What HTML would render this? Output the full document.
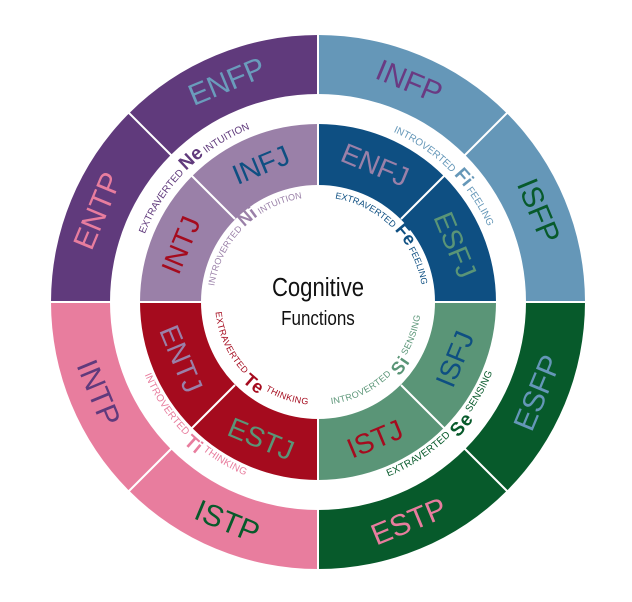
<!DOCTYPE html>
<html><head><meta charset="utf-8"><style>
html,body{margin:0;padding:0;background:#fff;width:632px;height:602px;overflow:hidden}
svg{display:block}
text{font-family:"Liberation Sans",sans-serif}
</style></head><body>
<svg width="632" height="602" viewBox="0 0 632 602" xmlns="http://www.w3.org/2000/svg">
<defs>
<path id="pNe" d="M 132.1 295.5 A 186 186 0 0 1 311.5 116.1"/>
<path id="pFi" d="M 324.5 116.1 A 186 186 0 0 1 503.9 295.5"/>
<path id="pSe" d="M 324.4 483.9 A 182 182 0 0 0 499.9 308.4"/>
<path id="pTi" d="M 136.1 308.4 A 182 182 0 0 0 311.6 483.9"/>
<path id="pNi" d="M 213.1 298.3 A 105 105 0 0 1 314.3 197.1"/>
<path id="pFe" d="M 321.7 197.1 A 105 105 0 0 1 422.9 298.3"/>
<path id="pSi" d="M 321.4 398.9 A 97 97 0 0 0 414.9 305.4"/>
<path id="pTe" d="M 221.1 305.4 A 97 97 0 0 0 314.6 398.9"/>
</defs>
<!-- outer ring -->
<path d="M318 35 A267 267 0 0 0 51 302 L110 302 A208 208 0 0 1 318 94 Z" fill="#603a7c"/>
<path d="M318 35 A267 267 0 0 1 585 302 L526 302 A208 208 0 0 0 318 94 Z" fill="#6597b8"/>
<path d="M51 302 A267 267 0 0 0 318 569 L318 510 A208 208 0 0 1 110 302 Z" fill="#e87d9e"/>
<path d="M585 302 A267 267 0 0 1 318 569 L318 510 A208 208 0 0 0 526 302 Z" fill="#075a2b"/>
<!-- inner ring -->
<path d="M318 124 A178 178 0 0 0 140 302 L201 302 A117 117 0 0 1 318 185 Z" fill="#9a80a8"/>
<path d="M318 124 A178 178 0 0 1 496 302 L435 302 A117 117 0 0 0 318 185 Z" fill="#0e4f82"/>
<path d="M140 302 A178 178 0 0 0 318 480 L318 419 A117 117 0 0 1 201 302 Z" fill="#a50b1e"/>
<path d="M496 302 A178 178 0 0 1 318 480 L318 419 A117 117 0 0 0 435 302 Z" fill="#5a9577"/>
<!-- dividers -->
<g stroke="#fff" stroke-width="2">
<line x1="318" y1="30" x2="318" y2="574"/>
<line x1="46" y1="302" x2="590" y2="302"/>
<line x1="129" y1="113" x2="175" y2="159"/>
<line x1="507" y1="113" x2="461" y2="159"/>
<line x1="129" y1="491" x2="175" y2="445"/>
<line x1="507" y1="491" x2="461" y2="445"/>
<line x1="192" y1="176" x2="235" y2="219"/>
<line x1="444" y1="176" x2="401" y2="219"/>
<line x1="192" y1="428" x2="235" y2="385"/>
<line x1="444" y1="428" x2="401" y2="385"/>
</g>
<!-- outer labels -->
<g font-size="30" text-anchor="middle" dominant-baseline="central">
<text x="227" y="82" fill="#6a9cbc" transform="rotate(-22.5 227 82)">ENFP</text>
<text x="409" y="82" fill="#6a3a82" transform="rotate(22.5 409 82)">INFP</text>
<text x="98" y="211" fill="#e87d9e" transform="rotate(-67.5 98 211)">ENTP</text>
<text x="538" y="211" fill="#075a2b" transform="rotate(67.5 538 211)">ISFP</text>
<text x="538" y="393" fill="#6597b8" transform="rotate(-67.5 538 393)">ESFP</text>
<text x="409" y="522" fill="#e87d9e" transform="rotate(-22.5 409 522)">ESTP</text>
<text x="227" y="522" fill="#075a2b" transform="rotate(22.5 227 522)">ISTP</text>
<text x="98" y="393" fill="#603a7c" transform="rotate(67.5 98 393)">INTP</text>
</g>
<g font-size="28" text-anchor="middle" dominant-baseline="central">
<text x="261" y="165" fill="#0e4f82" transform="rotate(-22.5 261 165)">INFJ</text>
<text x="375" y="165" fill="#9a80a8" transform="rotate(22.5 375 165)">ENFJ</text>
<text x="181" y="245" fill="#a50b1e" transform="rotate(-67.5 181 245)">INTJ</text>
<text x="455" y="245" fill="#5a9577" transform="rotate(67.5 455 245)">ESFJ</text>
<text x="455" y="359" fill="#0e4f82" transform="rotate(-67.5 455 359)">ISFJ</text>
<text x="375" y="439" fill="#a50b1e" transform="rotate(-22.5 375 439)">ISTJ</text>
<text x="261" y="439" fill="#5a9577" transform="rotate(22.5 261 439)">ESTJ</text>
<text x="181" y="359" fill="#9a80a8" transform="rotate(67.5 181 359)">ENTJ</text>
</g>
<!-- function labels -->
<g font-size="10" text-anchor="middle">
<text fill="#603a7c"><textPath href="#pNe" startOffset="50%">EXTRAVERTED <tspan font-size="19" font-weight="bold">Ne</tspan> INTUITION</textPath></text>
<text fill="#6597b8"><textPath href="#pFi" startOffset="50%">INTROVERTED <tspan font-size="19" font-weight="bold">Fi</tspan> FEELING</textPath></text>
<text fill="#075a2b" dominant-baseline="hanging"><textPath href="#pSe" startOffset="50%">EXTRAVERTED <tspan font-size="19" font-weight="bold">Se</tspan> SENSING</textPath></text>
<text fill="#e87d9e" dominant-baseline="hanging"><textPath href="#pTi" startOffset="50%">INTROVERTED <tspan font-size="19" font-weight="bold">Ti</tspan> THINKING</textPath></text>
<text fill="#9a80a8" font-size="9"><textPath href="#pNi" startOffset="50%">INTROVERTED <tspan font-size="18" font-weight="bold">Ni</tspan> INTUITION</textPath></text>
<text fill="#0e4f82" font-size="9"><textPath href="#pFe" startOffset="50%">EXTRAVERTED <tspan font-size="18" font-weight="bold">Fe</tspan> FEELING</textPath></text>
<text fill="#5a9577" font-size="9" dominant-baseline="hanging"><textPath href="#pSi" startOffset="50%">INTROVERTED <tspan font-size="18" font-weight="bold">Si</tspan> SENSING</textPath></text>
<text fill="#a50b1e" font-size="9" dominant-baseline="hanging"><textPath href="#pTe" startOffset="50%">EXTRAVERTED <tspan font-size="18" font-weight="bold">Te</tspan> THINKING</textPath></text>
</g>
<text x="318" y="296" font-size="26" text-anchor="middle" fill="#111" transform="translate(318 0) scale(0.85 1) translate(-318 0)">Cognitive</text>
<text x="318" y="325" font-size="20" text-anchor="middle" fill="#111" transform="translate(318 0) scale(0.85 1) translate(-318 0)">Functions</text>
</svg>
</body></html>
